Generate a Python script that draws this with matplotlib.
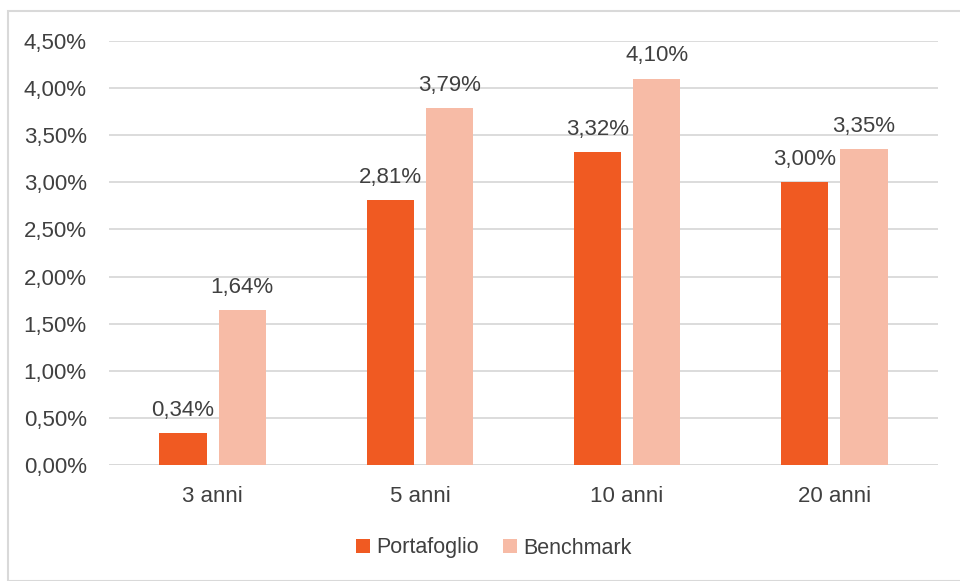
import numpy as np
import matplotlib.pyplot as plt
from matplotlib.patches import Rectangle

categories = ['3 anni', '5 anni', '10 anni', '20 anni']
portafoglio = [0.34, 2.81, 3.32, 3.00]
benchmark = [1.64, 3.79, 4.10, 3.35]
yticks = [0, 0.5, 1.0, 1.5, 2.0, 2.5, 3.0, 3.5, 4.0, 4.5]

c_port = '#F05A22'
c_bench = '#F7BBA6'
txt = '#404040'

plt.rcParams['font.family'] = ['Liberation Sans', 'DejaVu Sans']

fig = plt.figure(figsize=(9.6, 5.81), dpi=100)
fig.patches.append(Rectangle((8 / 960, 0.0), 1.2, 1 - 11 / 581, transform=fig.transFigure,
                             fill=False, edgecolor='#D9D9D9', linewidth=1.5))
ax = fig.add_axes([109 / 960, 1 - 465 / 581, (938 - 109) / 960, (465 - 41) / 581])

x = np.arange(len(categories))
w = 0.227
off = 0.143
b1 = ax.bar(x - off, portafoglio, w, color=c_port, zorder=3)
b2 = ax.bar(x + off, benchmark, w, color=c_bench, zorder=3)

def fmt(v):
    return f'{v:.2f}%'.replace('.', ',')

for bars, vals in ((b1, portafoglio), (b2, benchmark)):
    for b, v in zip(bars, vals):
        ax.annotate(fmt(v), (b.get_x() + b.get_width() / 2, v), xytext=(0, 12.5),
                    textcoords='offset points', ha='center', va='baseline',
                    fontsize=16, color=txt, zorder=4)

ax.set_xlim(-0.5, len(categories) - 0.5)
ax.set_ylim(0, 4.5)
ax.set_yticks(yticks)
ax.set_yticklabels([fmt(v) for v in yticks])
ax.set_xticks(x)
ax.set_xticklabels(categories)
ax.tick_params(axis='both', length=0, labelsize=16, labelcolor=txt)
ax.tick_params(axis='y', pad=16)
ax.tick_params(axis='x', pad=15)
ax.grid(axis='y', color='#D9D9D9', linewidth=1.3, zorder=0)
for s in ax.spines.values():
    s.set_visible(False)
ax.axhline(0, color='#D9D9D9', linewidth=1.3, zorder=1)

leg = fig.legend([b1, b2], ['Portafoglio', 'Benchmark'], loc='center',
                 bbox_to_anchor=(494 / 960, 1 - 548 / 581), ncol=2, frameon=False,
                 fontsize=15.5, handlelength=0.65, handleheight=0.65, handletextpad=0.3,
                 columnspacing=1.1)
for t in leg.get_texts():
    t.set_color(txt)

fig.savefig('out.png', dpi=100)
